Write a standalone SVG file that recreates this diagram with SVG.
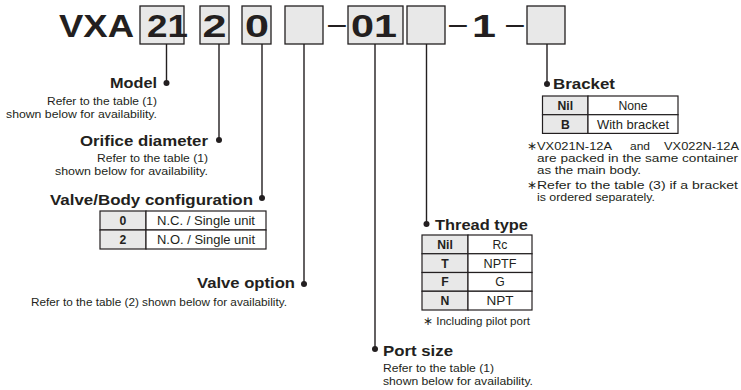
<svg xmlns="http://www.w3.org/2000/svg" width="741" height="390" viewBox="0 0 741 390">
<style>
text{font-family:"Liberation Sans",Arial,sans-serif;fill:#231f20}
.big{font-size:31px;font-weight:bold}
.dash{font-size:32px}
.lbl{font-size:15.5px;font-weight:bold}
.sub{font-size:11.6px}
.tk{font-size:12.2px;font-weight:bold;text-anchor:middle}
.tv{font-size:12.2px;text-anchor:middle}
.box{fill:#e8e8e8;stroke:#231f20;stroke-width:1.3}
.cell{fill:#fff;stroke:#231f20;stroke-width:1.2}
.kc{fill:#e8e8e8;stroke:#231f20;stroke-width:1.2}
.ld{stroke:#231f20;stroke-width:1.4;fill:none}
.dot{fill:#231f20}
</style>
<g id="code">
<text class="big" x="59" y="37" textLength="75" lengthAdjust="spacingAndGlyphs">VXA</text>
<rect class="box" x="140" y="6" width="44" height="38"/>
<text class="big" x="147" y="37" textLength="41" lengthAdjust="spacingAndGlyphs">21</text>
<rect class="box" x="200" y="6" width="29" height="38"/>
<text class="big" x="202.5" y="37" textLength="24" lengthAdjust="spacingAndGlyphs">2</text>
<rect class="box" x="242" y="6" width="29" height="38"/>
<text class="big" x="245" y="37" textLength="24" lengthAdjust="spacingAndGlyphs">0</text>
<rect class="box" x="285" y="6" width="38" height="38"/>
<text class="dash" x="328" y="34">–</text>
<rect class="box" x="348" y="6" width="55" height="38"/>
<text class="big" x="351" y="37" textLength="46" lengthAdjust="spacingAndGlyphs">01</text>
<rect class="box" x="407" y="6" width="38" height="38"/>
<text class="dash" x="449" y="34">–</text>
<text class="big" x="472" y="37" textLength="24" lengthAdjust="spacingAndGlyphs">1</text>
<text class="dash" x="506" y="34">–</text>
<rect class="box" x="527" y="6" width="38" height="38"/>
</g>
<g id="connectors">
<path class="ld" d="M166.5 44V83M219 44V140M262 44V198M304 44V284M375 44V349M426.5 44V224M547 44V84"/>
<circle class="dot" cx="166.5" cy="83" r="3"/>
<circle class="dot" cx="219" cy="140" r="3"/>
<circle class="dot" cx="262" cy="198" r="3"/>
<circle class="dot" cx="304" cy="284" r="3"/>
<circle class="dot" cx="375" cy="349" r="3"/>
<circle class="dot" cx="426.5" cy="224" r="3"/>
<circle class="dot" cx="547" cy="84" r="3"/>
</g>
<g id="model">
<text class="lbl" x="110" y="88" textLength="47" lengthAdjust="spacingAndGlyphs">Model</text>
<text class="sub" x="47" y="105" textLength="110" lengthAdjust="spacingAndGlyphs">Refer to the table (1)</text>
<text class="sub" x="6" y="118" textLength="151" lengthAdjust="spacingAndGlyphs">shown below for availability.</text>
</g>
<g id="orifice">
<text class="lbl" x="80" y="146" textLength="128" lengthAdjust="spacingAndGlyphs">Orifice diameter</text>
<text class="sub" x="97" y="162" textLength="111" lengthAdjust="spacingAndGlyphs">Refer to the table (1)</text>
<text class="sub" x="55" y="175" textLength="153" lengthAdjust="spacingAndGlyphs">shown below for availability.</text>
</g>
<g id="body">
<text class="lbl" x="50" y="205" textLength="203" lengthAdjust="spacingAndGlyphs">Valve/Body configuration</text>
<rect class="kc" x="100" y="211" width="46" height="19"/>
<rect class="cell" x="146" y="211" width="120" height="19"/>
<rect class="kc" x="100" y="230" width="46" height="19"/>
<rect class="cell" x="146" y="230" width="120" height="19"/>
<text class="tk" x="123" y="225">0</text>
<text class="tv" x="206" y="225" textLength="98" lengthAdjust="spacingAndGlyphs">N.C. / Single unit</text>
<text class="tk" x="123" y="244">2</text>
<text class="tv" x="206" y="244" textLength="98" lengthAdjust="spacingAndGlyphs">N.O. / Single unit</text>
</g>
<g id="option">
<text class="lbl" x="197" y="288" textLength="98" lengthAdjust="spacingAndGlyphs">Valve option</text>
<text class="sub" x="31" y="306" textLength="256" lengthAdjust="spacingAndGlyphs">Refer to the table (2) shown below for availability.</text>
</g>
<g id="port">
<text class="lbl" x="383" y="356" textLength="70" lengthAdjust="spacingAndGlyphs">Port size</text>
<text class="sub" x="383" y="372" textLength="111" lengthAdjust="spacingAndGlyphs">Refer to the table (1)</text>
<text class="sub" x="383" y="385" textLength="150" lengthAdjust="spacingAndGlyphs">shown below for availability.</text>
</g>
<g id="thread">
<text class="lbl" x="435" y="229.5" textLength="93" lengthAdjust="spacingAndGlyphs">Thread type</text>
<rect class="kc" x="422" y="235" width="46" height="18.75"/>
<rect class="cell" x="468" y="235" width="64" height="18.75"/>
<rect class="kc" x="422" y="253.75" width="46" height="18.75"/>
<rect class="cell" x="468" y="253.75" width="64" height="18.75"/>
<rect class="kc" x="422" y="272.5" width="46" height="18.75"/>
<rect class="cell" x="468" y="272.5" width="64" height="18.75"/>
<rect class="kc" x="422" y="291.25" width="46" height="18.75"/>
<rect class="cell" x="468" y="291.25" width="64" height="18.75"/>
<text class="tk" x="445" y="248.8">Nil</text>
<text class="tv" x="500" y="248.8">Rc</text>
<text class="tk" x="445" y="267.5">T</text>
<text class="tv" x="500" y="267.5" textLength="33" lengthAdjust="spacingAndGlyphs">NPTF</text>
<text class="tk" x="445" y="286.3">F</text>
<text class="tv" x="500" y="286.3">G</text>
<text class="tk" x="445" y="305">N</text>
<text class="tv" x="500" y="305" textLength="27" lengthAdjust="spacingAndGlyphs">NPT</text>
<text class="sub" x="423" y="325" textLength="107" lengthAdjust="spacingAndGlyphs">∗ Including pilot port</text>
</g>
<g id="bracket">
<text class="lbl" x="553" y="89" textLength="62" lengthAdjust="spacingAndGlyphs">Bracket</text>
<rect class="kc" x="542.5" y="96" width="45.5" height="18.7"/>
<rect class="cell" x="588" y="96" width="90" height="18.7"/>
<rect class="kc" x="542.5" y="114.7" width="45.5" height="18.7"/>
<rect class="cell" x="588" y="114.7" width="90" height="18.7"/>
<text class="tk" x="565.3" y="109.8">Nil</text>
<text class="tv" x="633" y="109.8">None</text>
<text class="tk" x="565.3" y="128.5">B</text>
<text class="tv" x="633" y="128.5" textLength="72" lengthAdjust="spacingAndGlyphs">With bracket</text>
<text class="sub" y="149.5"><tspan x="527">∗</tspan><tspan x="537" textLength="75" lengthAdjust="spacingAndGlyphs">VX021N-12A</tspan><tspan x="630" textLength="20" lengthAdjust="spacingAndGlyphs">and</tspan><tspan x="664" textLength="75" lengthAdjust="spacingAndGlyphs">VX022N-12A</tspan></text>
<text class="sub" x="537" y="161.5" textLength="201" lengthAdjust="spacingAndGlyphs">are packed in the same container</text>
<text class="sub" x="537" y="173.5" textLength="104" lengthAdjust="spacingAndGlyphs">as the main body.</text>
<text class="sub" y="188.5"><tspan x="527">∗</tspan><tspan x="537" textLength="201" lengthAdjust="spacingAndGlyphs">Refer to the table (3) if a bracket</tspan></text>
<text class="sub" x="537" y="200.5" textLength="118" lengthAdjust="spacingAndGlyphs">is ordered separately.</text>
</g>
</svg>
